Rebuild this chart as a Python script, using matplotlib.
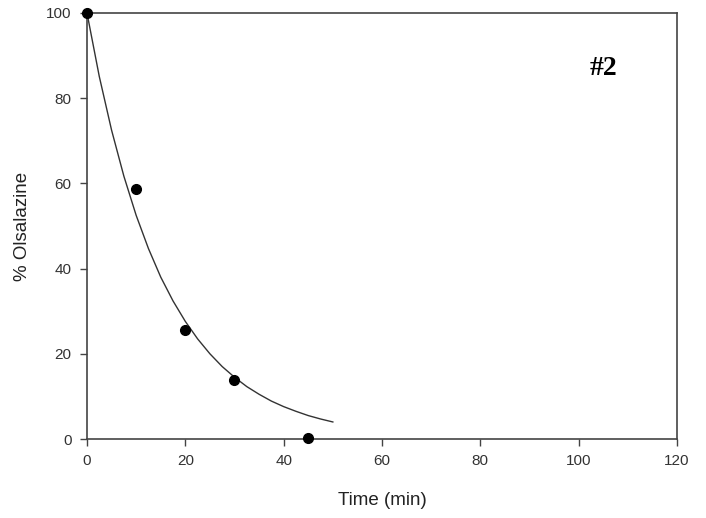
"""
Olsalazine degradation over time (#2), points plus fitted decay curve.
"""
import matplotlib.pyplot as plt

# measured points
time_min = [0, 10, 20, 30, 45]
pct_olsalazine = [100, 58.7, 25.7, 13.8, 0.3]

# fitted curve
fit_time = [0, 2.5, 5, 7.5, 10, 12.5, 15, 17.5, 20, 22.5, 25,
            27.5, 30, 32.5, 35, 37.5, 40, 42.5, 45, 47.5, 50]
fit_pct = [100, 85.1, 72.5, 61.7, 52.5, 44.7, 38.0, 32.4, 27.6, 23.5, 20.0,
           17.0, 14.5, 12.3, 10.5, 8.9, 7.6, 6.5, 5.5, 4.7, 4.0]

x_ticks = [0, 20, 40, 60, 80, 100, 120]
y_ticks = [0, 20, 40, 60, 80, 100]

plt.rcParams['font.family'] = ['Liberation Sans', 'DejaVu Sans']

fig = plt.figure(figsize=(7.06, 5.18), dpi=100)
ax = fig.add_axes([0.1232, 0.1525, 0.8358, 0.8225])

ax.plot(fit_time, fit_pct, color='#333333', linewidth=1.0, zorder=2)
ax.plot(time_min, pct_olsalazine, 'o', color='black', markersize=7,
        clip_on=False, zorder=3)

ax.set_xlim(0, 120)
ax.set_ylim(0, 100)
ax.set_xticks(x_ticks)
ax.set_yticks(y_ticks)

for s in ax.spines.values():
    s.set_color('#444444')
    s.set_linewidth(1.2)
ax.tick_params(direction='out', length=5, width=1.0, color='#444444',
               labelsize=11, labelcolor='#333333', pad=6)

ax.set_xlabel('Time (min)', fontsize=13.5, color='#222222', labelpad=17)
ax.set_ylabel('% Olsalazine', fontsize=13.5, color='#222222', labelpad=11)

ax.text(0.876, 0.87, '#2', transform=ax.transAxes, fontsize=20,
        fontweight='bold', family=['Liberation Serif', 'DejaVu Serif'],
        ha='center', va='center')

fig.savefig('out.png', dpi=100)
